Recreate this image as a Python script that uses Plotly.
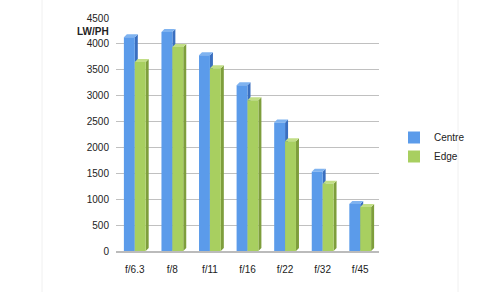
import plotly.graph_objects as go

categories = ["f/6.3", "f/8", "f/11", "f/16", "f/22", "f/32", "f/45"]
centre = [4130, 4230, 3780, 3200, 2480, 1530, 910]
edge = [3650, 3940, 3530, 2910, 2120, 1300, 850]
y_ticks = [0, 500, 1000, 1500, 2000, 2500, 3000, 3500, 4000, 4500]

W, H = 500, 292
L, R, T, B = 116, 121, 18, 41
pw, ph = W - L - R, H - T - B
ymax = 4500

blue, blue_side, blue_top = "#5B9BEA", "#3A6FC0", "#7FB3F0"
green, green_side, green_top = "#A8CF60", "#7E9E3C", "#C2DE86"

bw = 0.29
xs = list(range(len(categories)))

fig = go.Figure()
fig.add_trace(go.Bar(x=xs, y=centre, name="Centre", width=bw, offset=-bw,
                     marker=dict(color=blue, line=dict(width=0))))
fig.add_trace(go.Bar(x=xs, y=edge, name="Edge", width=bw, offset=0,
                     marker=dict(color=green, line=dict(width=0))))

# pseudo-3D faces computed from the data through the axis scales
dx = 3.0 / (pw / len(categories))
dy = 3.0 / (ph / ymax)
shapes = []
for vals, off, side_c, top_c in [(centre, -bw, blue_side, blue_top), (edge, 0, green_side, green_top)]:
    for i, v in zip(xs, vals):
        x0 = i + off
        x1 = x0 + bw
        shapes.append(dict(type="path", xref="x", yref="y", layer="between",
                           path=f"M {x1},0 L {x1+dx},{dy} L {x1+dx},{v+dy} L {x1},{v} Z",
                           fillcolor=side_c, line=dict(width=0)))
        shapes.append(dict(type="path", xref="x", yref="y", layer="between",
                           path=f"M {x0},{v} L {x0+dx},{v+dy} L {x1+dx},{v+dy} L {x1},{v} Z",
                           fillcolor=top_c, line=dict(width=0)))

# faint page borders
for px in (42, 458):
    shapes.append(dict(type="line", xref="paper", yref="paper",
                       x0=(px - L) / pw, x1=(px - L) / pw,
                       y0=-(B) / ph, y1=(ph + T) / ph,
                       line=dict(color="#F0F0F0", width=1)))

fig.update_layout(
    width=W, height=H,
    margin=dict(l=L, r=R, t=T, b=B, pad=0),
    paper_bgcolor="white", plot_bgcolor="white",
    barmode="overlay",
    font=dict(family="Liberation Sans, Arial, sans-serif", size=10, color="#222222"),
    shapes=shapes,
    showlegend=True,
    legend=dict(x=(394 - L) / pw, y=(H - B - 123) / ph, xanchor="left", yanchor="top",
                font=dict(size=10, color="#222222"), tracegroupgap=0, itemwidth=30,
                bgcolor="rgba(0,0,0,0)"),
    annotations=[dict(text="<b>LW/PH</b>", xref="paper", yref="paper",
                      x=(111 - L) / pw, y=(H - B - 31) / ph, xanchor="right", yanchor="middle",
                      showarrow=False, font=dict(size=10, color="#222222"))],
)
fig.update_xaxes(range=[-0.5, len(categories) - 0.5], tickmode="array", tickvals=xs,
                 ticktext=categories, showgrid=False, zeroline=False,
                 showline=True, linecolor="#BBBBBB", linewidth=2, ticks="",
                 ticklabelstandoff=8)
fig.update_yaxes(range=[0, ymax], tickmode="array", tickvals=y_ticks,
                 showgrid=True, gridcolor="#C0C0C0", gridwidth=1, zeroline=False,
                 showline=False, ticks="", ticklabelstandoff=6)

fig.write_html("out.html")
